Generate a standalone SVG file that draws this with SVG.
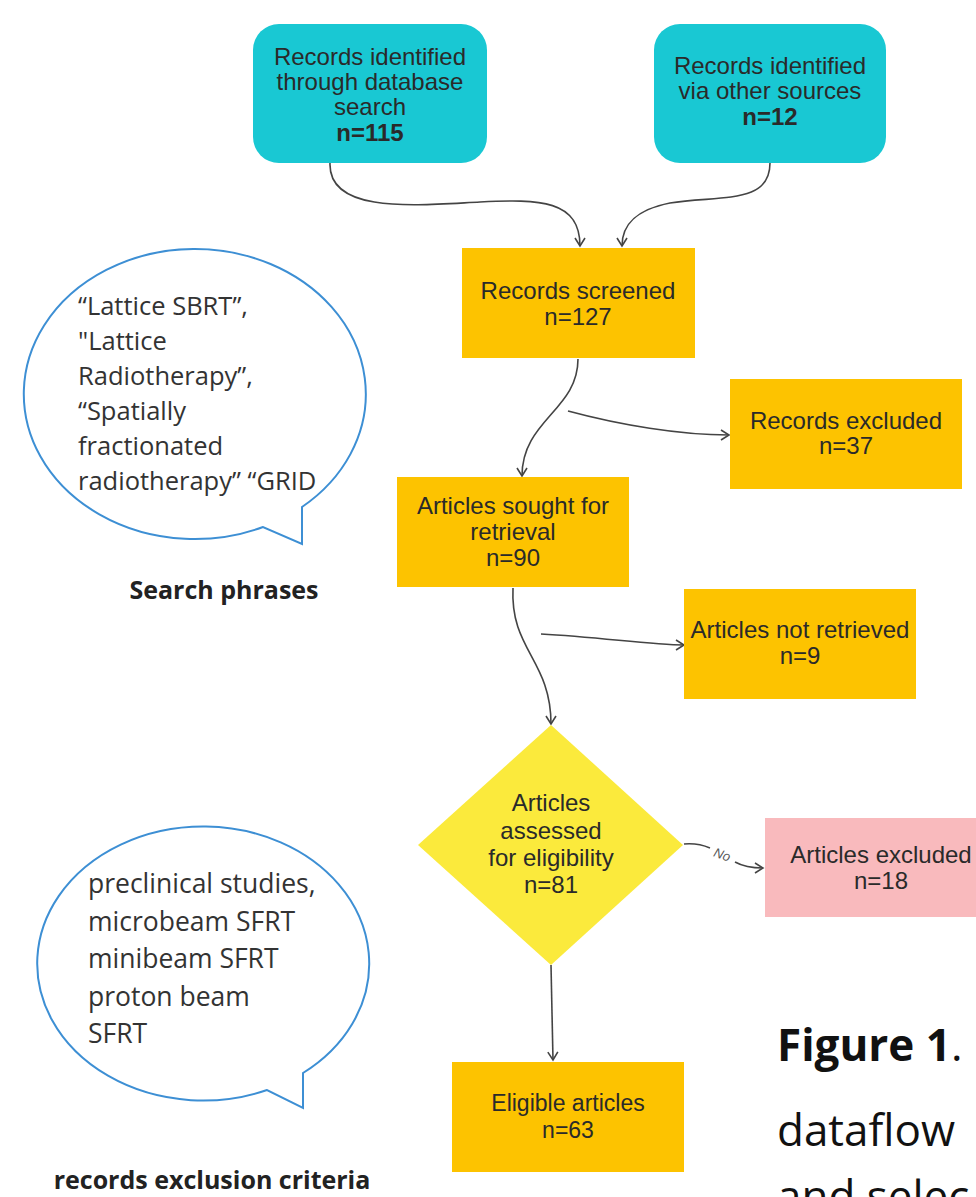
<svg xmlns="http://www.w3.org/2000/svg" width="976" height="1197" viewBox="0 0 976 1197">
<style>
.box{font-family:"Liberation Sans",Arial,sans-serif;font-size:24px;fill:#2a2a2a;text-anchor:middle}
.b{font-weight:bold}
.teal{fill:#19c8d3}
.gold{fill:#fdc300}
.conn{fill:none;stroke:#444;stroke-width:1.6}
.bubble{fill:#fff;stroke:#3d8fd4;stroke-width:2}
.btxt{font-family:"Open Sans","Noto Sans",sans-serif;font-size:25.5px;fill:#333}
.btxt2{font-family:"Open Sans","Noto Sans",sans-serif;font-size:26.5px;fill:#333}
.cap{font-family:"Open Sans","Noto Sans",sans-serif;font-size:25px;font-weight:bold;fill:#222;text-anchor:middle}
.fig{font-family:"Open Sans","Noto Sans",sans-serif;font-size:44px;fill:#111}
</style>
<defs>
<marker id="arr" markerWidth="14" markerHeight="14" refX="10" refY="6" orient="auto" markerUnits="userSpaceOnUse">
<path d="M2,1 L10,6 L2,11" fill="none" stroke="#444" stroke-width="1.6"/>
</marker>
</defs>
<rect width="976" height="1197" fill="#fff"/>

<g id="bubble-search">
<path class="bubble" d="M302,507 L302,544 L263,527 A171,145 0 1 1 302,507 Z"/>
<text class="btxt" x="78" y="315">“Lattice SBRT”,</text>
<text class="btxt" x="78" y="350">"Lattice</text>
<text class="btxt" x="78" y="385">Radiotherapy”,</text>
<text class="btxt" x="78" y="420">“Spatially</text>
<text class="btxt" x="78" y="455">fractionated</text>
<text class="btxt" x="78" y="490">radiotherapy” “GRID</text>
<text class="cap" x="224" y="599">Search phrases</text>
</g>

<g id="bubble-exclusion">
<path class="bubble" d="M303,1073 L303,1108 L267,1090 A166,137 0 1 1 303,1073 Z"/>
<text class="btxt2" x="88" y="893">preclinical studies,</text>
<text class="btxt2" x="88" y="931">microbeam SFRT</text>
<text class="btxt2" x="88" y="968">minibeam SFRT</text>
<text class="btxt2" x="88" y="1006">proton beam</text>
<text class="btxt2" x="88" y="1043">SFRT</text>
<text class="cap" x="212" y="1189">records exclusion criteria</text>
</g>

<g id="connectors">
<path class="conn" d="M330,163 C328,215 420,205 480,202 C540,199 580,200 580,246" marker-end="url(#arr)"/>
<path class="conn" d="M770,163 C770,205 720,195 670,203 C635,210 622,225 622,246" marker-end="url(#arr)"/>
<path class="conn" d="M578,359 C578,410 522,420 522,476" marker-end="url(#arr)"/>
<path class="conn" d="M568,411 C620,425 680,435 729,435" marker-end="url(#arr)"/>
<path class="conn" d="M513,588 C510,650 551,660 551,724" marker-end="url(#arr)"/>
<path class="conn" d="M541,634 C600,637 650,645 684,645" marker-end="url(#arr)"/>
<path class="conn" d="M684,844 C695,843 703,845 710,848"/>
<path class="conn" d="M735,862 C744,867 752,868 763,868" marker-end="url(#arr)"/>
<text x="722" y="859" font-family="Liberation Sans,Arial,sans-serif" font-size="13" font-style="italic" fill="#555" text-anchor="middle" transform="rotate(20 722 855)">No</text>
<path class="conn" d="M551,965 L553,1060" marker-end="url(#arr)"/>
</g>

<g id="n-db">
<rect class="teal" x="253" y="24" width="234" height="139" rx="26"/>
<text class="box" x="370" y="65">Records identified</text>
<text class="box" x="370" y="90">through database</text>
<text class="box" x="370" y="115">search</text>
<text class="box b" x="370" y="141">n=115</text>
</g>

<g id="n-other">
<rect class="teal" x="654" y="24" width="232" height="139" rx="26"/>
<text class="box" x="770" y="74">Records identified</text>
<text class="box" x="770" y="99">via other sources</text>
<text class="box b" x="770" y="125">n=12</text>
</g>

<g id="n-screened">
<rect class="gold" x="462" y="248" width="233" height="110"/>
<text class="box" x="578" y="299">Records screened</text>
<text class="box" x="578" y="325">n=127</text>
</g>

<g id="n-recexcl">
<rect class="gold" x="730" y="379" width="232" height="110"/>
<text class="box" x="846" y="429">Records excluded</text>
<text class="box" x="846" y="454">n=37</text>
</g>

<g id="n-sought">
<rect class="gold" x="397" y="477" width="232" height="110"/>
<text class="box" x="513" y="514">Articles sought for</text>
<text class="box" x="513" y="540">retrieval</text>
<text class="box" x="513" y="566">n=90</text>
</g>

<g id="n-notretr">
<rect class="gold" x="684" y="589" width="232" height="110"/>
<text class="box" x="800" y="638">Articles not retrieved</text>
<text class="box" x="800" y="664">n=9</text>
</g>

<g id="n-assessed">
<polygon points="551,725 683,845 551,965 418,845" fill="#fbea3c"/>
<text class="box" x="551" y="811">Articles</text>
<text class="box" x="551" y="839">assessed</text>
<text class="box" x="551" y="866">for eligibility</text>
<text class="box" x="551" y="893">n=81</text>
</g>

<g id="n-artexcl">
<rect x="765" y="818" width="240" height="99" fill="#f9babd"/>
<text class="box" x="881" y="863">Articles excluded</text>
<text class="box" x="881" y="889">n=18</text>
</g>

<g id="n-eligible">
<rect class="gold" x="452" y="1062" width="232" height="110"/>
<text class="box" x="568" y="1111" style="font-size:23px">Eligible articles</text>
<text class="box" x="568" y="1138" style="font-size:23px">n=63</text>
</g>

<g id="caption">
<text class="fig" x="777" y="1061"><tspan font-weight="bold">Figure 1</tspan>.</text>
<text class="fig" x="777" y="1146">dataflow</text>
<text class="fig" x="777" y="1212">and selec</text>
</g>
</svg>
